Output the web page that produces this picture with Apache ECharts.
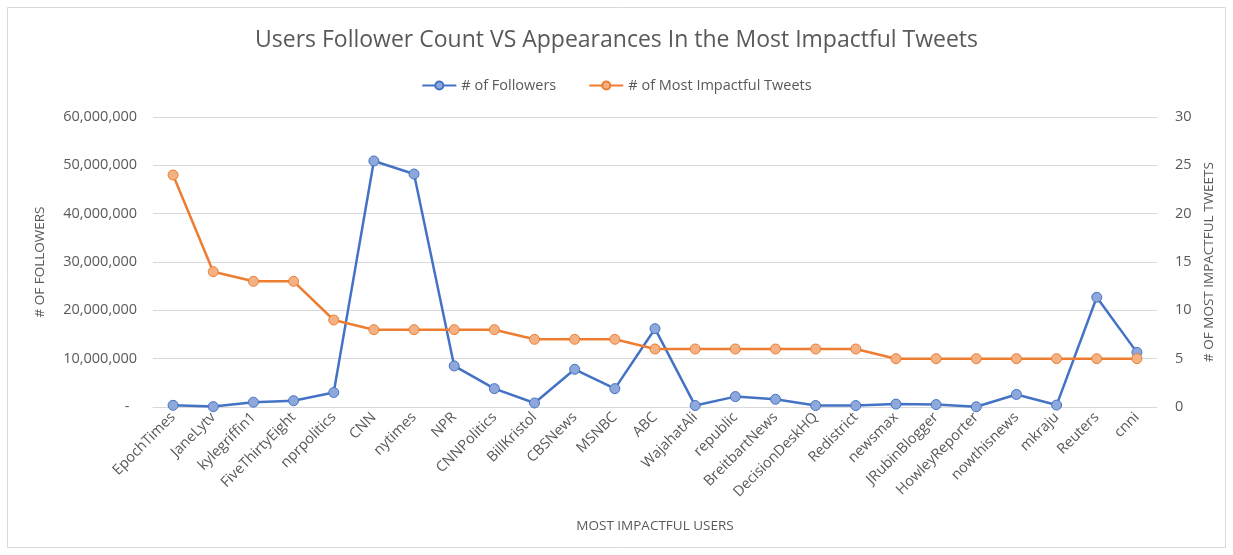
<!DOCTYPE html>
<html><head><meta charset="utf-8">
<script src="https://cdn.jsdelivr.net/npm/echarts@6/dist/echarts.min.js"></script>
<style>html,body{margin:0;padding:0;background:#fff}#c{width:1233px;height:555px}</style>
</head><body><div id="c"></div>
<script>
const categories = ["EpochTimes","JaneLytv","kylegriffin1","FiveThirtyEight","nprpolitics","CNN","nytimes","NPR","CNNPolitics","BillKristol","CBSNews","MSNBC","ABC","WajahatAli","republic","BreitbartNews","DecisionDeskHQ","Redistrict","newsmax","JRubinBlogger","HowleyReporter","nowthisnews","mkraju","Reuters","cnni"];
const followers = [350000,80000,1000000,1300000,3000000,50900000,48200000,8500000,3800000,830000,7800000,3800000,16200000,300000,2150000,1600000,300000,300000,600000,500000,50000,2600000,400000,22700000,11300000];
const tweets = [24,14,13,13,9,8,8,8,8,7,7,7,6,6,6,6,6,6,5,5,5,5,5,5,5];
const leftTicks = [0,10000000,20000000,30000000,40000000,50000000,60000000];
const rightTicks = [0,5,10,15,20,25,30];

const chart = echarts.init(document.getElementById('c'));
const grey = '#595959';
const font = 'Open Sans';
chart.setOption({
  animation:false,
  textStyle:{fontFamily:font},
  graphic:[{type:'rect',shape:{x:7.5,y:7.5,width:1218,height:540},style:{fill:'none',stroke:'#d9d9d9',lineWidth:1},silent:true}],
  title:{text:'Users Follower Count VS Appearances In the Most Impactful Tweets',left:'center',top:24,
    textStyle:{fontFamily:font,fontSize:23,fontWeight:'normal',color:grey}},
  legend:{top:73,left:'center',itemGap:32,itemWidth:34,itemHeight:10,
    textStyle:{fontFamily:font,fontSize:14.5,color:grey},
    data:['# of Followers','# of Most Impactful Tweets']},
  grid:{left:153,right:76,top:117,bottom:148,containLabel:false},
  xAxis:{type:'category',data:categories,boundaryGap:true,
    name:'MOST IMPACTFUL USERS',nameLocation:'middle',nameGap:112,
    nameTextStyle:{fontFamily:font,fontSize:13.5,color:grey},
    axisLine:{show:true,lineStyle:{color:'#d9d9d9'}},axisTick:{show:false},
    axisLabel:{rotate:45,interval:0,fontSize:14.5,color:grey,margin:8}},
  yAxis:[{type:'value',min:leftTicks[0],max:leftTicks[leftTicks.length-1],interval:leftTicks[1]-leftTicks[0],
      name:'# OF FOLLOWERS',nameLocation:'middle',nameGap:106,nameRotate:90,
      nameTextStyle:{fontFamily:font,fontSize:13.5,color:grey},
      axisLine:{show:false},axisTick:{show:false},
      splitLine:{lineStyle:{color:'#d9d9d9',width:1}},
      axisLabel:{fontSize:14.5,color:grey,margin:16,
        formatter:v=>v===0?'-  ':v.toLocaleString('en-US')}},
    {type:'value',min:rightTicks[0],max:rightTicks[rightTicks.length-1],interval:rightTicks[1]-rightTicks[0],position:'right',
      name:'# OF MOST IMPACTFUL TWEETS',nameLocation:'middle',nameGap:44,nameRotate:90,
      nameTextStyle:{fontFamily:font,fontSize:13.5,color:grey},
      axisLine:{show:false},axisTick:{show:false},splitLine:{show:false},
      axisLabel:{fontSize:14.5,color:grey,margin:18}}],
  series:[
    {name:'# of Followers',type:'line',yAxisIndex:0,data:followers,symbol:'circle',symbolSize:10,
      lineStyle:{color:'#4472C4',width:2.5},itemStyle:{color:'#8FA8DC',borderColor:'#4472C4',borderWidth:1},
      color:'#4472C4',z:2},
    {name:'# of Most Impactful Tweets',type:'line',yAxisIndex:1,data:tweets,symbol:'circle',symbolSize:10,
      lineStyle:{color:'#ED7D31',width:2.5},itemStyle:{color:'#F4B183',borderColor:'#ED7D31',borderWidth:1},
      color:'#ED7D31',z:3}
  ]
});
</script></body></html>
